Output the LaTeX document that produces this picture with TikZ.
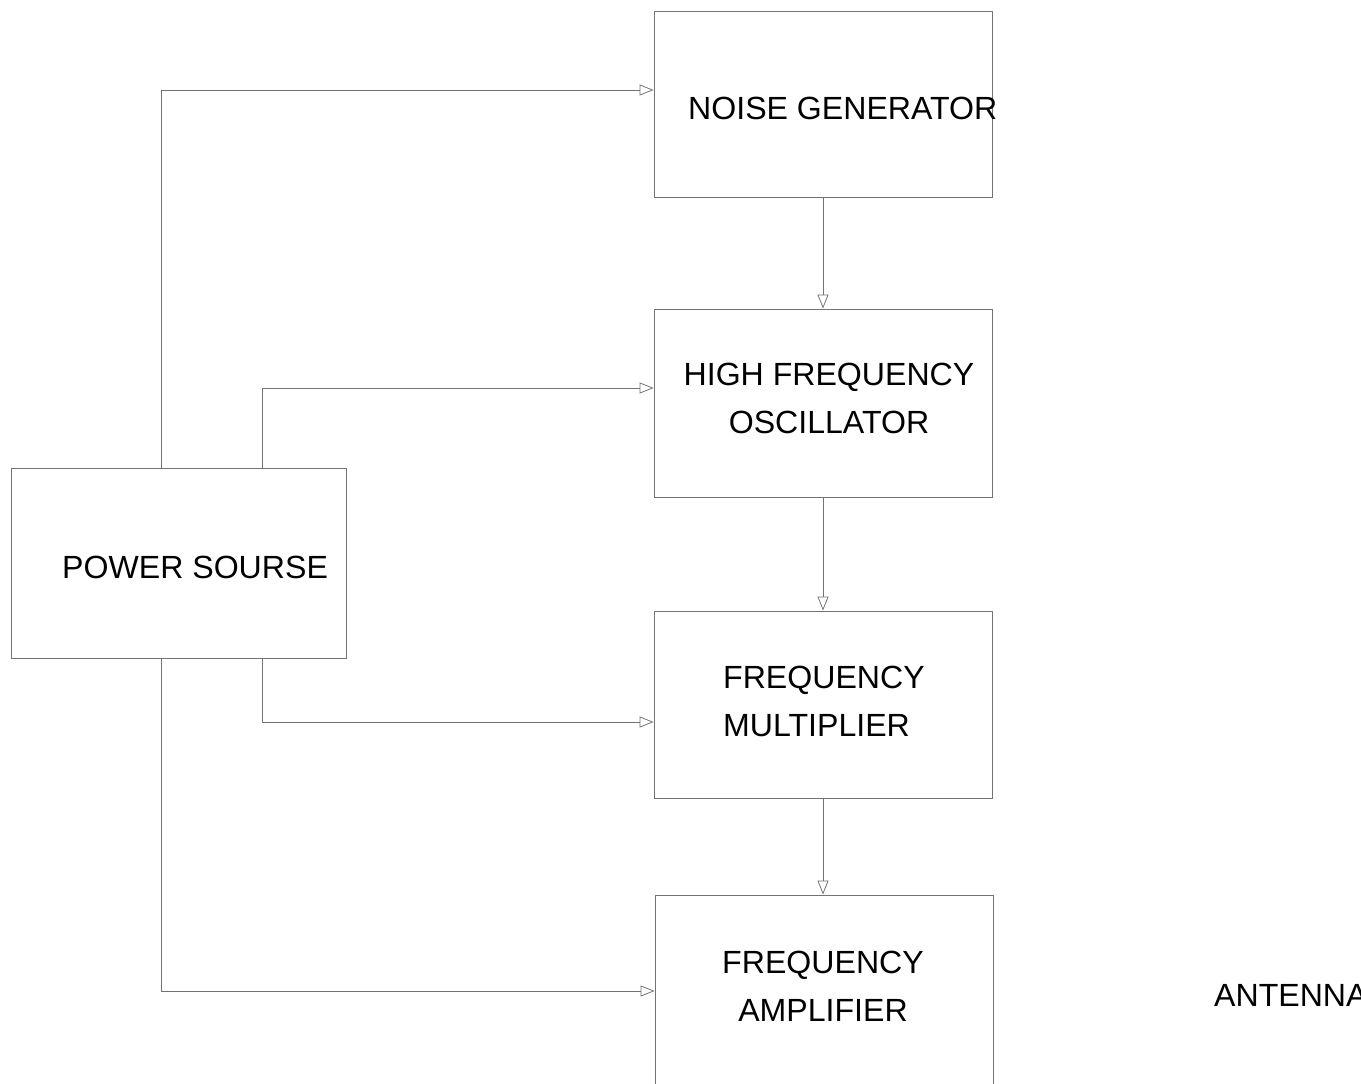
\documentclass[tikz,border=0pt]{standalone}
\usepackage{fontspec}
\setmainfont{Liberation Sans}
\usetikzlibrary{arrows.meta}
\begin{document}
\begin{tikzpicture}[x=1pt,y=-1pt,
  blk/.style={draw=black!55, line width=0.8pt, rectangle, inner sep=0pt},
  conn/.style={draw=black!55, line width=0.8pt, -{Triangle[open,length=14pt,width=11pt]}},
  lbl/.style={inner sep=0pt, font=\fontsize{32.1}{48}\selectfont, text=black}]
\useasboundingbox (0,0) rectangle (1361,1084);
\clip (0,0) rectangle (1361,1084);
\fill[white] (0,0) rectangle (1361,1084);
% boxes
\node[blk, minimum width=338pt, minimum height=186pt] (ng) at (823,104) {};
\node[blk, minimum width=338pt, minimum height=188pt] (hfo) at (823,403) {};
\node[blk, minimum width=338pt, minimum height=187pt] (fm) at (823,704.5) {};
\node[blk, minimum width=338pt, minimum height=205pt] (fa) at (824,997.5) {};
\node[blk, minimum width=335pt, minimum height=190pt] (ps) at (178.5,563) {};
% labels
\node[lbl, anchor=west] (tng) at (688,108) {NOISE GENERATOR};
\node[lbl, align=center] (thfo) at (829,398) {HIGH FREQUENCY\\OSCILLATOR};
\node[lbl, align=left, anchor=west] (tfm) at (723,701.5) {FREQUENCY\\MULTIPLIER};
\node[lbl, align=center] (tfa) at (823,986) {FREQUENCY\\AMPLIFIER};
\node[lbl, anchor=west] (tps) at (62,567) {POWER SOURSE};
\node[lbl, anchor=west] (tant) at (1214,995) {ANTENNA};
% connectors
\draw[conn] (ng.south) -- (hfo.north);
\draw[conn] (hfo.south) -- (fm.north);
\draw[conn] (fm.south) -- (fa.north -| fm.south);
\draw[conn] (ps.north -| 161,0) |- ([yshift=14pt]ng.west);
\draw[conn] (ps.north -| 262,0) |- ([yshift=15pt]hfo.west);
\draw[conn] (ps.south -| 262,0) |- ([yshift=-17.5pt]fm.west);
\draw[conn] (ps.south -| 161,0) |- ([yshift=6.5pt]fa.west);
\end{tikzpicture}
\end{document}
